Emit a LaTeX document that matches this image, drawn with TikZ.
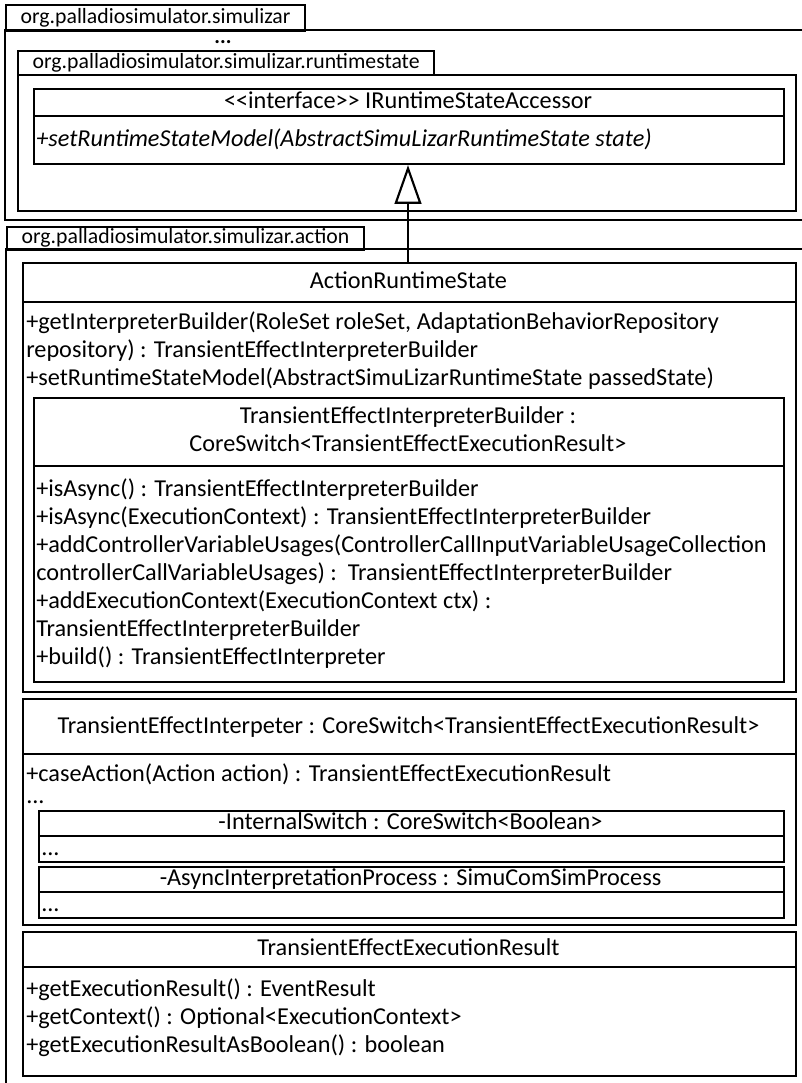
\documentclass[tikz,border=0pt]{standalone}
\usepackage{fontspec}
\setmainfont{Carlito}
\usetikzlibrary{arrows.meta}
\newcommand{\bodyfont}{\fontsize{18.2}{21}\selectfont}
\newcommand{\tabfont}{\fontsize{16.3}{19}\selectfont}
\begin{document}
\begin{tikzpicture}[x=0.75pt,y=-0.75pt,
  every node/.style={font=\bodyfont},
  frame/.style={draw=black, line width=1.6pt},
  umlbox/.style={frame, anchor=north west, inner sep=0pt, minimum width=#1},
  pkgtab/.style={frame, anchor=north west, inner ysep=0pt, inner xsep=11pt,
    font=\tabfont, text height=11.5pt, text depth=3.5pt},
  txt/.style={inner sep=0pt, text height=13pt, text depth=4pt},
  member/.style={txt, anchor=west},
  realization/.style={frame, -{Triangle[open, length=29pt, width=20pt, line width=1.6pt]}}
]
\useasboundingbox (0,0) rectangle (802,1083);

% ---------- package org.palladiosimulator.simulizar ----------
\node[pkgtab, minimum height=19.5pt] (simtab) at (5,4) {org.palladiosimulator.simulizar};
\draw[frame] (802,30) -- (5,30) -- (5,220) -- (802,220);
\node[inner sep=0pt, text height=3pt, text depth=0pt, font=\fontsize{16}{18}\selectfont\bfseries] (simdots) at (223,41) {...};

% ---------- package org.palladiosimulator.simulizar.runtimestate ----------
\node[pkgtab, minimum height=18pt] (rstab) at (17,50) {org.palladiosimulator.simulizar.runtimestate};
\node[umlbox=583.5pt, minimum height=102pt] (rsbody) at (17,74) {};

% interface IRuntimeStateAccessor
\node[umlbox=562.5pt, minimum height=56.25pt] (iface) at (33,88) {};
\draw[frame] (iface.west |- 0,116) -- (iface.east |- 0,116);
\node[txt] (ifacetitle) at (408,102) {<\kern0pt<interface>\kern0pt> IRuntimeStateAccessor};
\node[member, font=\bodyfont\itshape] (ifacem1) at (36,140)
  {+setRuntimeStateModel(AbstractSimuLizarRuntimeState state)};

% ---------- package org.palladiosimulator.simulizar.action ----------
\node[pkgtab, minimum height=17.25pt] (acttab) at (6,226) {org.palladiosimulator.simulizar.action};
\draw[frame] (802,249) -- (6,249) -- (6,1083);

% class ActionRuntimeState
\node[umlbox=579.75pt, minimum height=321.75pt] (ars) at (22,262) {};
\draw[frame] (ars.west |- 0,302) -- (ars.east |- 0,302);
\node[txt] (arstitle) at (408.5,282) {ActionRuntimeState};
\node[member] (arsm1) at (26,323) {+getInterpreterBuilder(RoleSet roleSet, AdaptationBehaviorRepository};
\node[member] (arsm2) at (26,351) {repository) : TransientEffectInterpreterBuilder};
\node[member] (arsm3) at (26,379) {+setRuntimeStateModel(AbstractSimuLizarRuntimeState passedState)};

% nested class TransientEffectInterpreterBuilder
\node[umlbox=562.5pt, minimum height=213pt] (builder) at (33,397) {};
\draw[frame] (builder.west |- 0,466) -- (builder.east |- 0,466);
\node[txt] (buildert1) at (408,417) {TransientEffectInterpreterBuilder :};
\node[txt] (buildert2) at (408,445) {CoreSwitch<TransientEffectExecutionResult>};
\node[member] (builderm1) at (36,490) {+isAsync() : TransientEffectInterpreterBuilder};
\node[member] (builderm2) at (36,518) {+isAsync(ExecutionContext) : TransientEffectInterpreterBuilder};
\node[member] (builderm3) at (36,546) {+addControllerVariableUsages(ControllerCallInputVariableUsageCollection};
\node[member] (builderm4) at (36,574) {controllerCallVariableUsages) :\ \ TransientEffectInterpreterBuilder};
\node[member] (builderm5) at (36,602) {+addExecutionContext(ExecutionContext ctx) :};
\node[member] (builderm6) at (36,630) {TransientEffectInterpreterBuilder};
\node[member] (builderm7) at (36,658) {+build() : TransientEffectInterpreter};

% class TransientEffectInterpeter
\node[umlbox=579.75pt, minimum height=169.5pt] (interp) at (22,698) {};
\draw[frame] (interp.west |- 0,754) -- (interp.east |- 0,754);
\node[txt] (interptitle) at (408.5,727) {TransientEffectInterpeter : CoreSwitch<TransientEffectExecutionResult>};
\node[member] (interpm1) at (26,775) {+caseAction(Action action) : TransientEffectExecutionResult};
\node[member] (interpdots) at (26,797) {...};

% nested class InternalSwitch
\node[umlbox=558.75pt, minimum height=38.25pt] (switch) at (38,810) {};
\draw[frame] (switch.west |- 0,836) -- (switch.east |- 0,836);
\node[txt] (switchtitle) at (410.5,823) {-InternalSwitch : CoreSwitch<Boolean>};
\node[member] (switchdots) at (41,849) {...};

% nested class AsyncInterpretationProcess
\node[umlbox=558.75pt, minimum height=38.25pt] (async) at (38,866) {};
\draw[frame] (async.west |- 0,892) -- (async.east |- 0,892);
\node[txt] (asynctitle) at (410.5,879) {-AsyncInterpretationProcess : SimuComSimProcess};
\node[member] (asyncdots) at (41,905) {...};

% class TransientEffectExecutionResult
\node[umlbox=579.75pt, minimum height=108pt] (result) at (22,931) {};
\draw[frame] (result.west |- 0,967) -- (result.east |- 0,967);
\node[txt] (resulttitle) at (408.5,949) {TransientEffectExecutionResult};
\node[member] (resultm1) at (26,990) {+getExecutionResult() : EventResult};
\node[member] (resultm2) at (26,1018) {+getContext() : Optional<ExecutionContext>};
\node[member] (resultm3) at (26,1046) {+getExecutionResultAsBoolean() : boolean};

% ActionRuntimeState realizes IRuntimeStateAccessor
\draw[realization] (ars.north -| 408,0) -- (iface.south -| 408,0);
\end{tikzpicture}
\end{document}
